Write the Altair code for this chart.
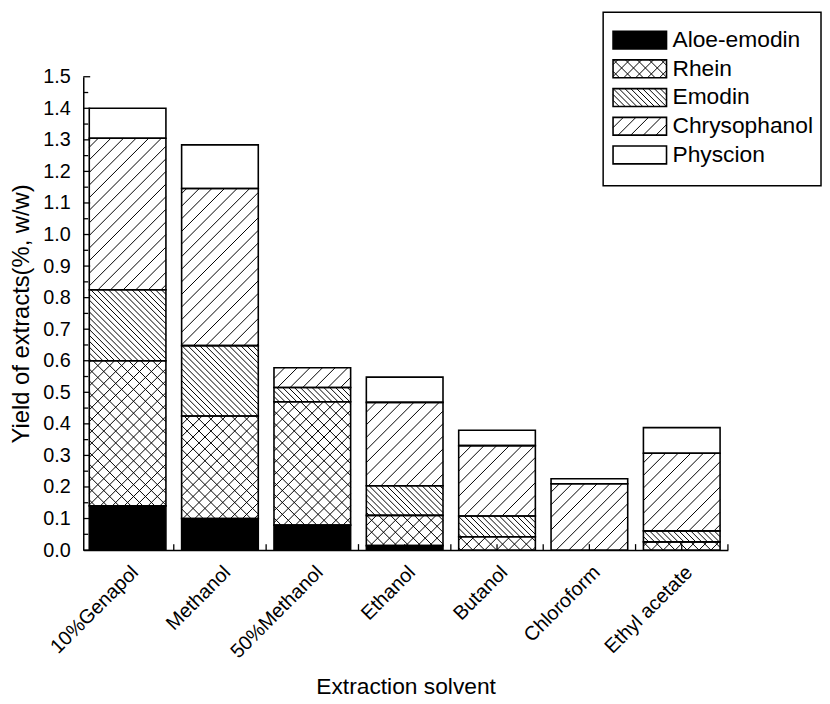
import json
import math
import altair as alt
import pandas as pd

# ---------------- data ----------------
solvents = ["10%Genapol", "Methanol", "50%Methanol", "Ethanol", "Butanol", "Chloroform", "Ethyl acetate"]
series = ["Aloe-emodin", "Rhein", "Emodin", "Chrysophanol", "Physcion"]
aloe_emodin = [0.140, 0.100, 0.079, 0.014, 0.000, 0.000, 0.000]
rhein = [0.460, 0.325, 0.391, 0.096, 0.042, 0.000, 0.026]
emodin = [0.225, 0.223, 0.045, 0.094, 0.066, 0.000, 0.035]
chrysophanol = [0.480, 0.498, 0.063, 0.264, 0.223, 0.210, 0.246]
physcion = [0.095, 0.138, 0.000, 0.080, 0.049, 0.016, 0.081]
y_ticks = [round(i * 0.1, 1) for i in range(16)]

values = [aloe_emodin, rhein, emodin, chrysophanol, physcion]

# ---------------- layout ----------------
W, H = 651, 478
XMIN, XMAX = -0.48, 6.5
YMAX = 1.5
SX = W / (XMAX - XMIN)
SY = H / YMAX
HALF = 0.415
PLOT_LEFT, PLOT_BOTTOM = 83, 551
FONT = "Liberation Sans"

# pattern per series: (fill, hatch directions, spacing px)
patterns = {
    "Aloe-emodin": ("black", [], 0),
    "Rhein": ("white", ["/", "\\"], 8.5),
    "Emodin": ("white", ["\\"], 4.2),
    "Chrysophanol": ("white", ["/"], 9.0),
    "Physcion": ("white", [], 0),
}


def hatch(x0, x1, y0, y1, direction, spacing):
    X0, X1, Y0, Y1 = x0 * SX, x1 * SX, y0 * SY, y1 * SY
    step = spacing * math.sqrt(2)
    out = []
    if direction == "/":
        cmin, cmax = Y0 - X1, Y1 - X0
        for k in range(math.ceil(cmin / step), math.floor(cmax / step) + 1):
            c = k * step
            xa, xb = max(X0, Y0 - c), min(X1, Y1 - c)
            if xb - xa > 0.3:
                out.append((xa / SX, (xa + c) / SY, xb / SX, (xb + c) / SY))
    else:
        cmin, cmax = X0 + Y0, X1 + Y1
        for k in range(math.ceil(cmin / step), math.floor(cmax / step) + 1):
            c = k * step
            xa, xb = max(X0, c - Y1), min(X1, c - Y0)
            if xb - xa > 0.3:
                out.append((xa / SX, (c - xa) / SY, xb / SX, (c - xb) / SY))
    return out


rects = []
lines = []


def add_rect(x0, x1, y0, y1, s):
    fill, dirs, sp = patterns[s]
    rects.append({"x": x0, "x2": x1, "y": y0, "y2": y1, "fill": fill})
    for d in dirs:
        for (a, b, c, e) in hatch(x0, x1, y0, y1, d, sp):
            lines.append({"x": a, "y": b, "x2": c, "y2": e})


# stacked bars
for i, name in enumerate(solvents):
    base = 0.0
    for s, vals in zip(series, values):
        v = vals[i]
        if v > 0:
            add_rect(i - HALF, i + HALF, base, base + v, s)
        base += v


def xd(px):
    return XMIN + (px - PLOT_LEFT) / SX


def yd(py):
    return (PLOT_BOTTOM - py) / SY


# legend (drawn in the same coordinate system, outside the plot area)
legend_box = pd.DataFrame([{"x": xd(608), "x2": xd(828), "y": yd(8), "y2": yd(183)}])
legend_text = []
for j, s in enumerate(series):
    cy = 36 + 29 * j
    add_rect(xd(618), xd(672), yd(cy + 9), yd(cy - 9), s)
    legend_text.append({"x": xd(678), "y": yd(cy), "label": s})

rects_df = pd.DataFrame(rects)
lines_df = pd.DataFrame(lines)
text_df = pd.DataFrame(legend_text)

xscale = alt.Scale(domain=[XMIN, XMAX], nice=False, zero=False)
yscale = alt.Scale(domain=[0, YMAX], nice=False)

label_expr = json.dumps(solvents) + "[round(datum.value)]"

xaxis = alt.Axis(
    values=list(range(len(solvents))), labelExpr=label_expr, labelAngle=-45,
    labelFontSize=20, labelFont=FONT, labelColor="black", ticks=False, grid=False,
    domainColor="black", domainWidth=1.5, title="Extraction solvent",
    titleFont=FONT, titleFontSize=23, titleFontWeight="normal", titleColor="black",
    titlePadding=14, labelPadding=12, labelOverlap=False,
)
yaxis = alt.Axis(
    values=y_ticks, format=".1f", labelFontSize=20, labelFont=FONT, labelColor="black",
    ticks=False, grid=False, domainColor="black", domainWidth=1.5, labelOverlap=False,
    labelFlush=False,
    title="Yield of extracts(%, w/w)", titleFont=FONT, titleFontSize=24,
    titleFontWeight="normal", titleColor="black", titlePadding=9, labelPadding=13,
)


def X(f):
    return alt.X(f, scale=xscale, axis=xaxis)


def Y(f):
    return alt.Y(f, scale=yscale, axis=yaxis)


box = alt.Chart(legend_box).mark_rect(fill="white", stroke="black", strokeWidth=1.5).encode(
    x=X("x:Q"), x2="x2:Q", y=Y("y:Q"), y2="y2:Q",
)

fills = alt.Chart(rects_df).mark_rect(strokeWidth=0).encode(
    x=X("x:Q"), x2="x2:Q", y=Y("y:Q"), y2="y2:Q",
    fill=alt.Fill("fill:N", scale=None),
)

hatches = alt.Chart(lines_df).mark_rule(color="black", strokeWidth=1).encode(
    x=X("x:Q"), x2="x2:Q", y=Y("y:Q"), y2="y2:Q",
)

outlines = alt.Chart(rects_df).mark_rect(fillOpacity=0, stroke="black", strokeWidth=1.6).encode(
    x=X("x:Q"), x2="x2:Q", y=Y("y:Q"), y2="y2:Q",
)

texts = alt.Chart(text_df).mark_text(
    align="left", baseline="middle", font=FONT, fontSize=23, color="black"
).encode(
    x=X("x:Q"), y=Y("y:Q"), text="label:N",
)

# inward axis ticks
ytick_major = pd.DataFrame({"v": y_ticks})
ytick_minor = pd.DataFrame({"v": [round(t + 0.05, 2) for t in y_ticks[:-1]]})
xtick_pos = pd.DataFrame({"v": [i * 0.5 for i in range(1, 14)]})

yt1 = alt.Chart(ytick_major).mark_rule(color="black", strokeWidth=1.3).encode(
    y=Y("v:Q"), x=alt.value(0), x2=alt.value(7)
)
yt2 = alt.Chart(ytick_minor).mark_rule(color="black", strokeWidth=1.3).encode(
    y=Y("v:Q"), x=alt.value(0), x2=alt.value(5)
)
xt = alt.Chart(xtick_pos).mark_rule(color="black", strokeWidth=1.3).encode(
    x=X("v:Q"), y=alt.value(H), y2=alt.value(H - 6)
)

chart = alt.layer(box, fills, hatches, outlines, texts, yt1, yt2, xt).properties(
    width=W, height=H, padding={"left": 2, "top": 0, "right": 0, "bottom": 0}
).configure(background="white").configure_view(stroke=None, strokeWidth=0)

chart.save("out.html", embed_options={"renderer": "svg", "actions": False})
